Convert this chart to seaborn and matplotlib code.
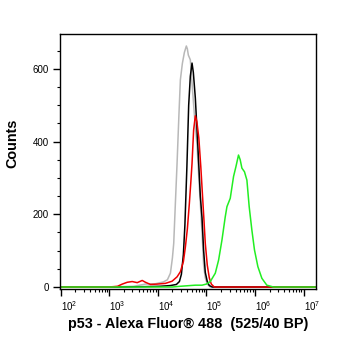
import numpy as np
import pandas as pd
import matplotlib
matplotlib.use("Agg")
import matplotlib.pyplot as plt
import matplotlib.ticker as mticker
import matplotlib.transforms as mtransforms
import seaborn as sns

# ---- data (log10 of fluorescence intensity, counts) ----
gray_log = [1.985, 3.027, 3.499, 3.745, 3.951, 4.115, 4.197, 4.259, 4.300, 4.327, 4.361, 4.396,
            4.433, 4.464, 4.505, 4.546, 4.587, 4.608, 4.628, 4.669, 4.721, 4.766, 4.807,
            4.844, 4.875, 4.910, 4.943, 4.977, 5.018, 5.080, 7.257]
gray_cnt = [0, 0, 2, 8, 9, 14, 20, 38, 80, 120, 230, 341,
            470, 570, 615, 645, 663, 655, 638, 625, 530, 450, 390,
            300, 230, 150, 60, 25, 8, 0, 0]

black_log = [1.985, 3.232, 3.745, 4.053, 4.259, 4.382, 4.444, 4.485, 4.526, 4.557, 4.598, 4.635,
             4.669, 4.704, 4.731, 4.772, 4.823, 4.875, 4.910, 4.943, 4.977, 5.018, 5.060,
             5.121, 7.257]
black_cnt = [0, 0, 1, 2, 4, 7, 15, 35, 90, 170, 330, 500,
             580, 616, 590, 520, 390, 250, 190, 100, 40, 15, 4,
             0, 0]

red_log = [1.985, 2.986, 3.088, 3.170, 3.267, 3.370, 3.472, 3.575, 3.678, 3.745, 3.848, 3.986,
           4.156, 4.294, 4.396, 4.464, 4.526, 4.567, 4.608, 4.649, 4.680, 4.704, 4.737,
           4.772, 4.803, 4.844, 4.885, 4.916, 4.947, 4.977, 5.018, 5.060, 5.101, 5.162, 7.257]
red_cnt = [0, 0, 1, 2, 8, 13, 15, 12, 18, 13, 7, 8,
           10, 16, 28, 42, 70, 110, 160, 230, 290, 340, 432,
           471, 455, 410, 330, 260, 190, 120, 60, 25, 8, 0, 0]

green_log = [1.985, 4.300, 4.464, 4.669, 4.772, 4.910, 4.998, 5.080, 5.183, 5.251, 5.320, 5.388,
             5.423, 5.491, 5.559, 5.608, 5.661, 5.696, 5.731, 5.784, 5.834, 5.881, 5.936,
             5.990, 6.060, 6.142, 6.244, 6.380, 7.257]
green_cnt = [0, 0, 2, 4, 5, 5, 8, 15, 38, 74, 129, 193,
             221, 244, 304, 331, 363, 350, 327, 317, 294, 221, 157,
             102, 56, 24, 5, 0, 0]

samples = ["gray", "black", "red", "green"]
colors = {"gray": "#b8b8b8", "black": "#000000", "red": "#ee0000", "green": "#22ee22"}

xlabel = "p53 - Alexa Fluor\u00ae 488  (525/40 BP)"
ylabel = "Counts"
ytick_major = [0, 200, 400, 600]

frames = []
for name, lg, cnt in [("gray", gray_log, gray_cnt), ("black", black_log, black_cnt),
                      ("red", red_log, red_cnt), ("green", green_log, green_cnt)]:
    frames.append(pd.DataFrame({"fluor": 10 ** np.array(lg), "count": cnt,
                                "sample": name, "order": np.arange(len(lg))}))
df = pd.concat(frames, ignore_index=True)

# ---- style ----
sns.set_style("ticks")
plt.rcParams["font.family"] = ["Liberation Sans", "DejaVu Sans"]
plt.rcParams["mathtext.fontset"] = "custom"
plt.rcParams["mathtext.rm"] = "Liberation Sans"
plt.rcParams["mathtext.default"] = "regular"
plt.rcParams["text.color"] = "black"
plt.rcParams["axes.labelcolor"] = "black"

fig = plt.figure(figsize=(3.62, 3.51), dpi=100)
ax = fig.add_axes([60 / 362, 1 - 289 / 351, 256 / 362, 255 / 351])

sns.lineplot(data=df, x="fluor", y="count", hue="sample", hue_order=samples,
             palette=colors, sort=False, estimator=None, units="sample",
             linewidth=1.1, legend=False, ax=ax)

ax.set_xscale("log")
ax.set_xlim(10 ** 1.985, 10 ** 7.257)
ax.set_ylim(-5.5, 696)

ax.xaxis.set_major_locator(mticker.FixedLocator([1e2, 1e3, 1e4, 1e5, 1e6, 1e7]))
ax.xaxis.set_minor_locator(mticker.LogLocator(base=10, subs=np.arange(2, 10), numticks=20))
ax.xaxis.set_major_formatter(mticker.FuncFormatter(lambda v, p: r"$10^{%d}$" % round(np.log10(v))))
ax.xaxis.set_minor_formatter(mticker.NullFormatter())
ax.yaxis.set_major_locator(mticker.FixedLocator(ytick_major))
ax.yaxis.set_minor_locator(mticker.MultipleLocator(50))

ax.tick_params(axis="both", which="major", direction="out", length=5, width=1.0,
               labelsize=7, colors="black", pad=3)
ax.tick_params(axis="both", which="minor", direction="out", length=2.4, width=0.8, colors="black")
ax.tick_params(axis="x", which="major", pad=2.5)

for lab in ax.get_xticklabels():
    lab.set_horizontalalignment("left")

for s in ax.spines.values():
    s.set_visible(True)
    s.set_linewidth(1.0)
    s.set_color("black")

ax.set_xlabel(xlabel, fontsize=10.4, fontweight="bold", labelpad=3, color="black")
ax.set_ylabel(ylabel, fontsize=10.4, fontweight="bold", color="black")
ax.yaxis.set_label_coords(-0.16, 0.57)

fig.savefig("out.png", dpi=100, facecolor="white")
